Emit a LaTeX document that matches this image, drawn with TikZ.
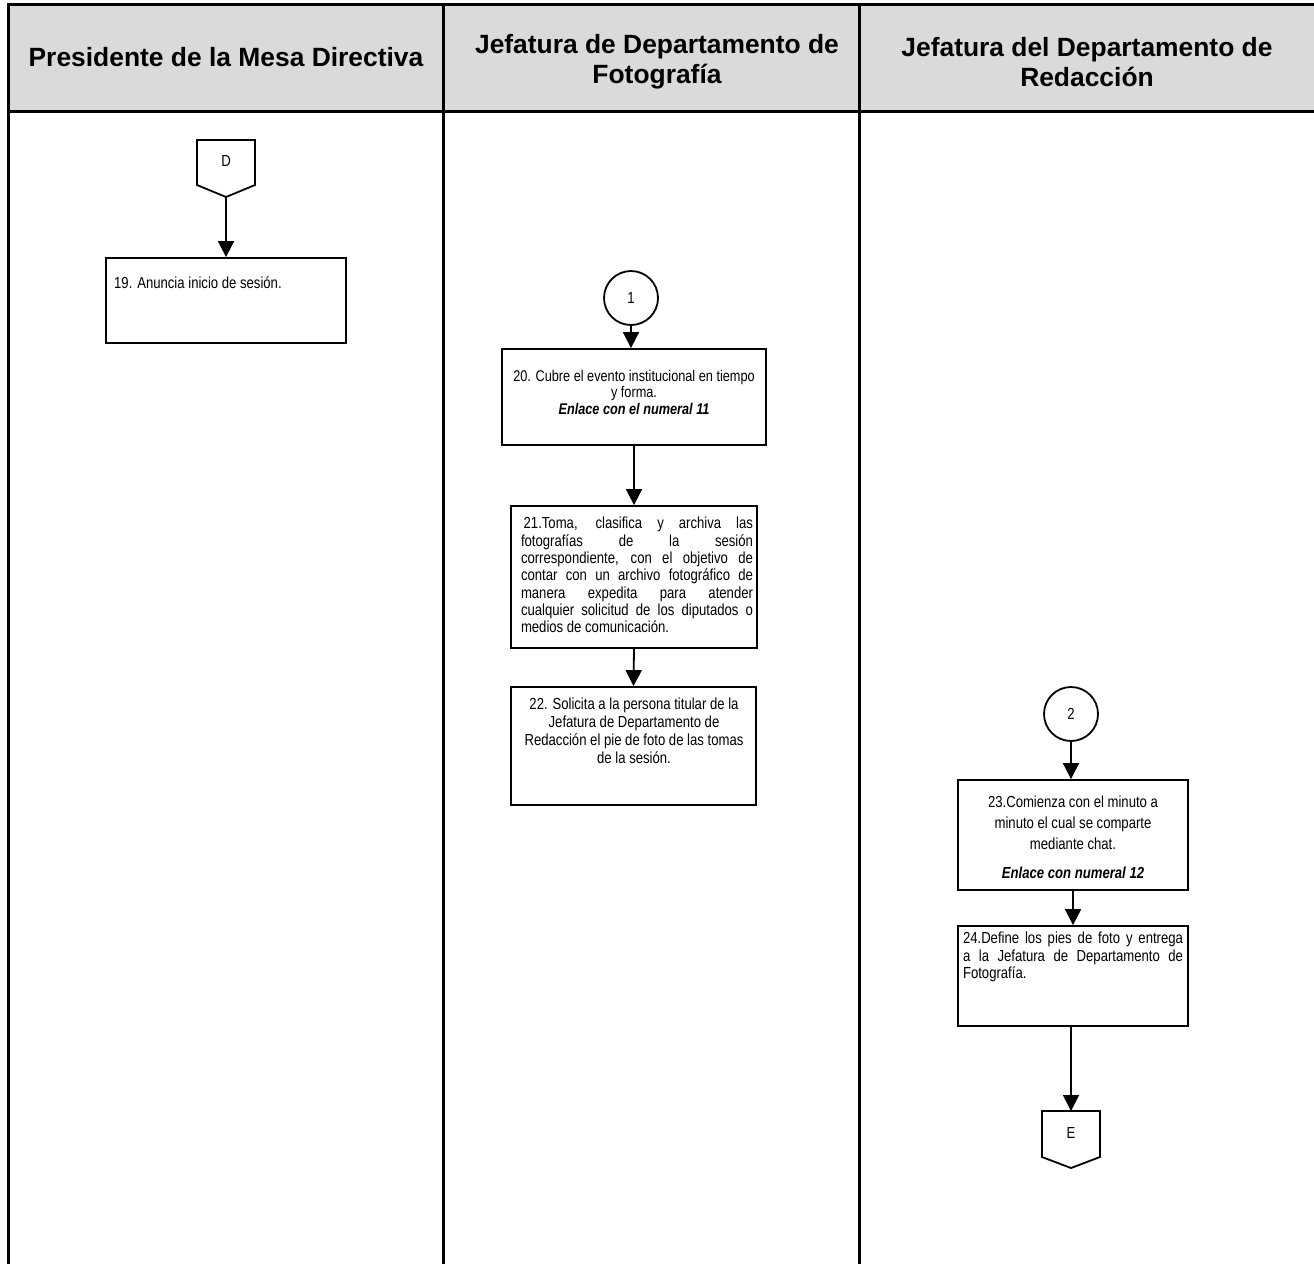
\documentclass[tikz,border=0pt]{standalone}
\usepackage{fontspec}
\setmainfont{Liberation Sans}
\newfontfamily\narrow[FakeStretch=0.82]{Liberation Sans}
\usetikzlibrary{arrows.meta,calc}
\definecolor{hdrgray}{HTML}{DADADA}

\begin{document}
\begin{tikzpicture}[x=1pt,y=-1pt,
  lane/.style={line width=3pt},
  hdr/.style={font=\fontsize{26.4}{30}\selectfont\bfseries, align=center, inner sep=0},
  box/.style={draw, line width=1.8pt, inner sep=0, minimum width=#1},
  body/.style={font=\narrow\fontsize{16}{17.3}\selectfont, inner sep=0},
  conn/.style={draw, circle, line width=1.8pt, minimum size=54pt, inner sep=0},
  flow/.style={line width=1.8pt, -{Triangle[width=16pt,length=16pt]}},
  offpage/.style={line width=1.8pt, line join=miter}
]
\useasboundingbox (0,0) rectangle (1314,1264);

% ---- swimlane table ----
\fill[hdrgray] (8,4) rectangle (1314,111);
\draw[lane] (8,4) -- (1314,4);
\draw[lane] (8,111) -- (1314,111);
\draw[lane] (8,2.5) -- (8,1264);
\draw[lane] (443,4) -- (443,1264);
\draw[lane] (859,4) -- (859,1264);

\node[hdr] (h1) at (226,57) {Presidente de la Mesa Directiva};
\node[hdr] (h2) at (657,61.5) {Jefatura de Departamento de\\Fotografía};
\node[hdr] (h3) at (1087,62) {Jefatura del Departamento de\\Redacción};

% ---- lane 1 ----
\draw[offpage] (197,140) -- (255,140) -- (255,185) -- (226,197) -- (197,185) -- cycle;
\node[body] (D) at (226,161) {D};
\coordinate (Dtip) at (226,197);

\node[box=240pt, minimum height=85pt] (b19) at (226,300.5) {};
\node[body, anchor=west] (t19) at (114,283) {19. Anuncia inicio de sesión.};

\draw[flow] (Dtip) -- (b19.north);

% ---- lane 2 ----
\node[conn] (c1) at (631,298) {};
\node[body] (n1) at (c1) {1};

\node[box=264pt, minimum height=96pt] (b20) at (634,397) {};
\node[body, align=center, font=\narrow\fontsize{15.5}{16.5}\selectfont] (t20) at (634,392)
  {20. Cubre el evento institucional en tiempo\\ y forma.\\ \textbf{\textit{Enlace con el numeral 11}}};

\node[box=246pt, minimum height=142pt] (b21) at (634,577) {};
\node[body, align=left] (t21) at (637,575) {%
  \makebox[232pt][s]{\,21.Toma, clasifica y archiva las}\\
  \makebox[232pt][s]{fotografías de la sesión}\\
  \makebox[232pt][s]{correspondiente, con el objetivo de}\\
  \makebox[232pt][s]{contar con un archivo fotográfico de}\\
  \makebox[232pt][s]{manera expedita para atender}\\
  \makebox[232pt][s]{cualquier solicitud de los diputados o}\\
  \makebox[232pt][l]{medios de comunicación.}};

\node[box=245pt, minimum height=118pt] (b22) at (633.5,746) {};
\node[body, align=center, font=\narrow\fontsize{16}{18}\selectfont] (t22) at (634,731)
  {22. Solicita a la persona titular de la\\ Jefatura de Departamento de\\ Redacción el pie de foto de las tomas\\ de la sesión.};

\draw[flow] (c1.south) -- (c1.south |- b20.north);
\draw[flow] (b20.south) -- (b21.north);
\draw[flow] (b21.south) -- (b22.north);

% ---- lane 3 ----
\node[conn] (c2) at (1071,714) {};
\node[body] (n2) at (c2) {2};

\node[box=230pt, minimum height=110pt] (b23) at (1073,835) {};
\node[body, align=center, font=\narrow\fontsize{16}{21}\selectfont] (t23) at (1073,837)
  {23.Comienza con el minuto a\\ minuto el cual se comparte\\ mediante chat.\\[8pt] \textbf{\textit{Enlace con numeral 12}}};

\node[box=230pt, minimum height=100pt] (b24) at (1073,976) {};
\node[body, align=left] (t24) at (1073,957) {%
  \makebox[220pt][s]{24.Define los pies de foto y entrega}\\
  \makebox[220pt][s]{a la Jefatura de Departamento de}\\
  \makebox[220pt][l]{Fotografía.}};

\draw[offpage] (1042,1111) -- (1100,1111) -- (1100,1157) -- (1071,1168) -- (1042,1157) -- cycle;
\node[body] (E) at (1071,1133) {E};
\coordinate (Etop) at (1071,1111);

\draw[flow] (c2.south) -- (c2.south |- b23.north);
\draw[flow] (b23.south) -- (b24.north);
\draw[flow] (b24.south -| Etop) -- (Etop);

\end{tikzpicture}
\end{document}
